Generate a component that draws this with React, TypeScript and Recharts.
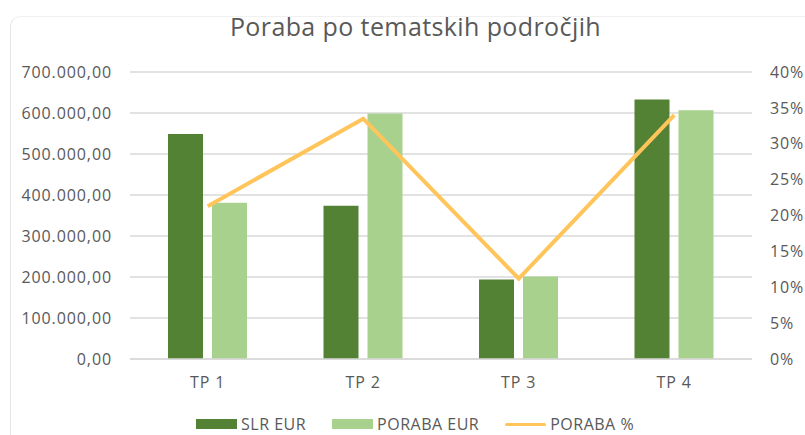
import { ComposedChart, Bar, Line, XAxis, YAxis, CartesianGrid, Legend } from 'recharts';

const categories = ['TP 1', 'TP 2', 'TP 3', 'TP 4'];
const slrEur = [549000, 374000, 194000, 633000];
const porabaEur = [381000, 599000, 201000, 607000];
const porabaPct = [0.213, 0.335, 0.112, 0.340];

const leftTicks = [0, 100000, 200000, 300000, 400000, 500000, 600000, 700000];
const rightTicks = [0, 0.05, 0.1, 0.15, 0.2, 0.25, 0.3, 0.35, 0.4];

const data = categories.map((name, i) => ({
  name,
  slr: slrEur[i],
  poraba: porabaEur[i],
  pct: porabaPct[i],
}));

const FONT = '"Open Sans", Lato, sans-serif';
const GREY = '#595959';
const DARK = '#548235';
const LIGHT = '#A9D18E';
const ORANGE = '#FFC55A';

// 700000 -> "700.000,00"
const fmtEur = (v: number) => {
  const s = Math.round(v).toString().replace(/\B(?=(\d{3})+(?!\d))/g, '.');
  return s + ',00';
};
const fmtPct = (v: number) => Math.round(v * 100) + '%';

const tickStyle = { fill: GREY, fontSize: 16, fontFamily: FONT, letterSpacing: 0.9 };

const legendItems = [
  { label: 'SLR EUR', color: DARK, kind: 'bar' },
  { label: 'PORABA EUR', color: LIGHT, kind: 'bar' },
  { label: 'PORABA %', color: ORANGE, kind: 'line' },
];

function LegendContent() {
  return (
    <div
      style={{
        height: 22,
        display: 'flex',
        alignItems: 'center',
        gap: 26,
        paddingLeft: 196,
        fontFamily: FONT,
        fontSize: 16,
        letterSpacing: 0.5,
        color: GREY,
      }}
    >
      {legendItems.map((it) => (
        <div key={it.label} style={{ display: 'flex', alignItems: 'center' }}>
          <span
            style={{
              display: 'inline-block',
              width: 41,
              height: it.kind === 'bar' ? 10 : 3,
              background: it.color,
              borderRadius: it.kind === 'line' ? 2 : 0,
              marginRight: 4,
            }}
          />
          <span style={{ lineHeight: '20px' }}>{it.label}</span>
        </div>
      ))}
    </div>
  );
}

export default function App() {
  return (
    <div style={{ position: 'absolute', left: 0, top: 0, width: 805, height: 435, background: '#fff', overflow: 'hidden' }}>
      <div
        style={{
          position: 'absolute',
          left: 10,
          top: 16,
          width: 900,
          height: 500,
          borderLeft: '1px solid #e4e4e4',
          borderTop: '1px solid #f0f0f0',
          borderTopLeftRadius: 10,
        }}
      />
      <div
        style={{
          position: 'absolute',
          left: 0,
          top: 9,
          width: 831,
          textAlign: 'center',
          fontFamily: FONT,
          fontSize: 25,
          letterSpacing: 0.4,
          color: GREY,
        }}
      >
        Poraba po tematskih področjih
      </div>
      <ComposedChart
        width={805}
        height={435}
        data={data}
        margin={{ top: 72, right: 8, left: 10, bottom: 0 }}
        barGap={9}
        style={{ position: 'absolute', left: 0, top: 0 }}
      >
        <CartesianGrid vertical={false} stroke="#d9d9d9" strokeWidth={1.5} yAxisId="left" />
        <XAxis
          dataKey="name"
          height={54}
          axisLine={{ stroke: '#d9d9d9', strokeWidth: 1.5 }}
          tickLine={false}
          tickMargin={12}
          tick={tickStyle}
        />
        <YAxis
          yAxisId="left"
          width={120}
          domain={[0, 700000]}
          ticks={leftTicks}
          tickFormatter={fmtEur}
          axisLine={false}
          tickLine={false}
          tickMargin={12}
          tick={tickStyle}
        />
        <YAxis
          yAxisId="right"
          orientation="right"
          width={45}
          domain={[0, 0.4]}
          ticks={rightTicks}
          tickFormatter={fmtPct}
          axisLine={false}
          tickLine={false}
          tickMargin={12}
          tick={tickStyle}
        />
        <Legend verticalAlign="bottom" content={<LegendContent />} wrapperStyle={{ left: 0, width: 805 }} />
        <Bar yAxisId="left" dataKey="slr" name="SLR EUR" fill={DARK} barSize={35} isAnimationActive={false} />
        <Bar yAxisId="left" dataKey="poraba" name="PORABA EUR" fill={LIGHT} barSize={35} isAnimationActive={false} />
        <Line
          yAxisId="right"
          dataKey="pct"
          name="PORABA %"
          stroke={ORANGE}
          strokeWidth={4}
          dot={false}
          type="linear"
          isAnimationActive={false}
        />
      </ComposedChart>
    </div>
  );
}
